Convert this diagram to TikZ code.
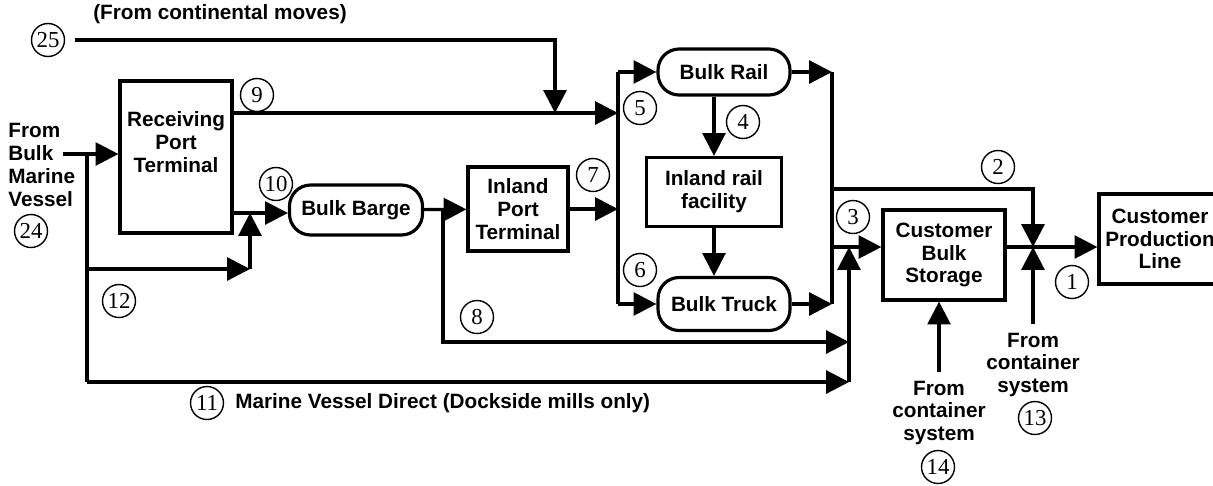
\documentclass[tikz,border=0pt]{standalone}
\usepackage{fontspec}
\setmainfont{Liberation Sans}
\newfontfamily\numfont{Liberation Serif}
\usepackage{tikz}
\usetikzlibrary{positioning,arrows.meta,calc}
\tikzset{
  stage/.style={draw, line width=1.8pt, fill=white, align=center, inner sep=1pt,
                font=\bfseries\fontsize{11.8}{13}\selectfont},
  pill/.style={stage, rounded corners=12pt},
  num/.style={circle, draw, line width=0.8pt, minimum size=0.66cm, inner sep=0pt,
              font=\numfont\fontsize{13}{14}\selectfont},
  lbl/.style={font=\bfseries\fontsize{11.8}{13}\selectfont, align=center, inner sep=0pt},
  pipe/.style={line width=1.8pt},
  flow/.style={pipe, -{Triangle[length=13pt, width=13pt]}}
}
\begin{document}
\begin{tikzpicture}[x=0.02cm, y=-0.02cm]
    \path[use as bounding box, clip] (0,0) rectangle (1213,485);
    % stages
    \node[stage, minimum width=2.24cm, minimum height=3.04cm] (recv) at (176,157) {Receiving\\Port\\Terminal\\[4pt]~};
    \node[pill, minimum width=2.66cm, minimum height=1.0cm] (barge) at (356,210) {Bulk Barge};
    \node[stage, minimum width=2.0cm, minimum height=1.68cm] (ipt) at (518,209) {Inland\\Port\\Terminal};
    \node[pill, minimum width=2.64cm, minimum height=0.92cm] (rail) at (724,72) {Bulk Rail};
    \node[stage, minimum width=2.7cm, minimum height=1.38cm] (irf) at (714,192) {Inland rail\\facility};
    \node[pill, minimum width=2.64cm, minimum height=1.06cm] (truck) at (724,304) {Bulk Truck};
    \node[stage, minimum width=2.44cm, minimum height=1.8cm] (cbs) at (944,255) {Customer\\Bulk\\Storage};
    \node[stage, minimum width=2.44cm, minimum height=1.8cm] (cpl) at (1160,239) {Customer\\Production\\Line};
    % free texts
    \node[lbl] (cont) at (220,14) {(From continental moves)};
    \node[lbl, align=left, anchor=west] (vessel) at (8,165) {From\\Bulk\\Marine\\Vessel};
    \node[lbl, anchor=west] (direct) at (235,403) {Marine Vessel Direct (Dockside mills only)};
    \node[lbl] (from13) at (1033,365) {From\\container\\system};
    \node[lbl] (from14) at (939,413) {From\\container\\system};
    % flow numbers
    \node[num] (n1) at (1072,282) {1};
    \node[num] (n2) at (998,167) {2};
    \node[num] (n3) at (853,217) {3};
    \node[num] (n4) at (743,122) {4};
    \node[num] (n5) at (640,108) {5};
    \node[num] (n6) at (640,270) {6};
    \node[num] (n7) at (593,175) {7};
    \node[num] (n8) at (477,317) {8};
    \node[num] (n9) at (257,95) {9};
    \node[num] (n10) at (276,184) {10};
    \node[num] (n11) at (207,403) {11};
    \node[num] (n12) at (119,301) {12};
    \node[num] (n13) at (1035,418) {13};
    \node[num] (n14) at (938,467) {14};
    \node[num] (n24) at (31,231) {24};
    \node[num] (n25) at (48,40) {25};
    % junctions
    \coordinate (c25) at (75,40);
    \coordinate (j25) at (555,113);
    \coordinate (j9) at (618,113);
    \coordinate (vin) at (63,154);
    \coordinate (vj) at (87,154);
    \coordinate (v12) at (87,269);
    \coordinate (k12) at (250,269);
    \coordinate (j10) at (250,213);
    \coordinate (vb) at (87,382);
    \coordinate (j11) at (849,382);
    \coordinate (j8) at (443,210);
    \coordinate (j8e) at (849,342);
    \coordinate (atop) at (618,72);
    \coordinate (abot) at (618,304);
    \coordinate (btop) at (832,72);
    \coordinate (bbot) at (832,304);
    \coordinate (j2) at (832,189);
    \coordinate (j1) at (1033,247);
    \coordinate (j3) at (832,247);
    \coordinate (c3) at (849,247);
    % connectors
    \draw[flow] (c25) -| (j25);
    \draw[flow] (recv.east |- j9) -- (j9);
    \draw[flow] (vin) -- (vin -| recv.west);
    \draw[pipe] (vj) -- (vb);
    \draw[flow] (vb) -- (j11);
    \draw[flow] (v12) -- (k12);
    \draw[flow] (k12) -- (j10);
    \draw[flow] (recv.east |- j10) -- (j10 -| barge.west);
    \draw[flow] (barge) -- (ipt);
    \draw[flow] (j8) |- (j8e);
    \draw[flow] (ipt) -- (ipt -| j9);
    \draw[pipe] (atop) -- (abot);
    \draw[flow] (atop) -- (rail);
    \draw[flow] (abot) -- (truck);
    \draw[flow] (rail.south -| irf) -- (irf);
    \draw[flow] (irf) -- (irf |- truck.north);
    \draw[flow] (rail) -- (btop);
    \draw[flow] (truck) -- (bbot);
    \draw[pipe] (btop) -- (bbot);
    \draw[flow] (j2) -| (j1);
    \draw[flow] (j3) -- (j3 -| cbs.west);
    \draw[flow] (j11) -- (c3);
    \draw[flow] (cbs.east |- j1) -- (j1 -| cpl.west);
    \draw[flow, shorten <=5pt] (from13) -- (j1);
    \draw[flow, shorten <=5pt] (from14) -- (from14 |- cbs.south);
\end{tikzpicture}
\end{document}
